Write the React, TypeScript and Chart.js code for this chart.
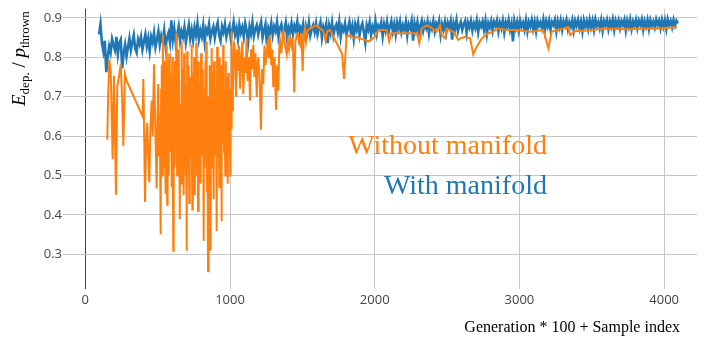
import React, { useEffect, useRef } from 'react';
import { Chart, registerables } from 'chart.js';

Chart.register(...registerables);

const ORANGE = '#ff7f0e';
const BLUE = '#1f77b4';

// "With manifold" runs: one sample every WITH_STEP index units, starting at WITH_START.
const WITH_START = 95;
const WITH_STEP = 10;
const withManifold: number[] = [
  0.858, 0.884, 0.836, 0.815, 0.842, 0.762, 0.80, 0.828, 0.812, 0.846,
  0.83, 0.818, 0.852, 0.808, 0.836, 0.845, 0.772, 0.81, 0.832, 0.802,
  0.826, 0.848, 0.818, 0.838, 0.856, 0.822, 0.812, 0.846, 0.834, 0.852,
  0.82, 0.84, 0.858, 0.828, 0.848, 0.816, 0.852, 0.838, 0.862, 0.826,
  0.846, 0.866, 0.832, 0.855, 0.84, 0.868, 0.828, 0.85, 0.862, 0.838,
  0.894, 0.845, 0.872, 0.836, 0.858, 0.878, 0.842, 0.866, 0.852, 0.876,
  0.838, 0.862, 0.882, 0.848, 0.87, 0.844, 0.876, 0.856, 0.886, 0.846,
  0.868, 0.852, 0.88, 0.84, 0.872, 0.862, 0.884, 0.848, 0.866, 0.878,
  0.85, 0.874, 0.888, 0.856, 0.842, 0.878, 0.864, 0.884, 0.852, 0.87,
  0.88, 0.848, 0.866, 0.889, 0.858, 0.874, 0.846, 0.882, 0.862, 0.876,
  0.852, 0.886, 0.868, 0.838, 0.878, 0.86, 0.888, 0.854, 0.872, 0.882,
  0.858, 0.876, 0.89, 0.85, 0.868, 0.884, 0.832, 0.874, 0.862, 0.886,
  0.856, 0.878, 0.866, 0.889, 0.852, 0.874, 0.884, 0.86, 0.87, 0.888,
  0.848, 0.876, 0.864, 0.886, 0.858, 0.88, 0.868, 0.89, 0.854, 0.876,
  0.866, 0.884, 0.842, 0.878, 0.862, 0.888, 0.856, 0.872, 0.882, 0.864,
  0.886, 0.858, 0.874, 0.889, 0.85, 0.878, 0.866, 0.884, 0.836, 0.88,
  0.862, 0.888, 0.856, 0.876, 0.884, 0.864, 0.89, 0.852, 0.878, 0.868,
  0.886, 0.858, 0.874, 0.89, 0.862, 0.88, 0.848, 0.884, 0.87, 0.888,
  0.856, 0.876, 0.886, 0.864, 0.838, 0.882, 0.87, 0.889, 0.858, 0.878,
  0.866, 0.891, 0.86, 0.88, 0.872, 0.888, 0.854, 0.884, 0.868, 0.89,
  0.862, 0.878, 0.892, 0.866, 0.884, 0.858, 0.888, 0.872, 0.891, 0.864,
  0.882, 0.87, 0.89, 0.856, 0.884, 0.874, 0.892, 0.842, 0.886, 0.868,
  0.889, 0.862, 0.88, 0.893, 0.868, 0.886, 0.874, 0.891, 0.86, 0.884,
  0.872, 0.892, 0.866, 0.886, 0.878, 0.893, 0.858, 0.884, 0.87, 0.89,
  0.864, 0.888, 0.876, 0.892, 0.845, 0.886, 0.872, 0.894, 0.866, 0.88,
  0.89, 0.87, 0.884, 0.893, 0.862, 0.888, 0.876, 0.892, 0.868, 0.886,
  0.874, 0.894, 0.864, 0.888, 0.878, 0.891, 0.87, 0.893, 0.86, 0.887,
  0.876, 0.892, 0.868, 0.89, 0.88, 0.894, 0.866, 0.888, 0.874, 0.893,
  0.864, 0.889, 0.878, 0.895, 0.87, 0.886, 0.84, 0.892, 0.874, 0.89,
  0.868, 0.893, 0.878, 0.888, 0.87, 0.894, 0.866, 0.89, 0.879, 0.895,
  0.872, 0.891, 0.866, 0.893, 0.88, 0.889, 0.874, 0.895, 0.868, 0.892,
  0.878, 0.894, 0.87, 0.89, 0.882, 0.895, 0.866, 0.892, 0.876, 0.894,
  0.87, 0.891, 0.88, 0.895, 0.872, 0.889, 0.878, 0.894, 0.868, 0.893,
  0.88, 0.895, 0.874, 0.891, 0.866, 0.894, 0.878, 0.892, 0.872, 0.895,
  0.876, 0.893, 0.87, 0.896, 0.88, 0.89, 0.874, 0.894, 0.868, 0.892,
  0.882, 0.895, 0.872, 0.891, 0.878, 0.896, 0.87, 0.893, 0.88, 0.894,
  0.874, 0.892, 0.882, 0.895, 0.868, 0.893, 0.878, 0.896, 0.872, 0.891,
  0.88, 0.895, 0.874, 0.893, 0.882, 0.896, 0.87, 0.892, 0.878, 0.895,
  0.872, 0.894, 0.88, 0.891, 0.876, 0.896, 0.882, 0.893, 0.874, 0.895,
  0.878, 0.894, 0.872, 0.896, 0.882, 0.892, 0.876, 0.895, 0.88, 0.893,
  0.886,
];

// "Without manifold" runs: [generation * 100 + sample index, E_dep / p_thrown]
const withoutEarly: [number, number][] = [
  [152, 0.591], [158, 0.7], [166, 0.794], [176, 0.765], [189, 0.541], [198, 0.753],
  [212, 0.451], [221, 0.725], [235, 0.757], [245, 0.782], [254, 0.7], [263, 0.575],
  [274, 0.757], [286, 0.74], [397, 0.649], [401, 0.745], [407, 0.6], [413, 0.433],
  [420, 0.58], [428, 0.633], [435, 0.55], [442, 0.483], [450, 0.62], [459, 0.69],
  [466, 0.6], [475, 0.782], [484, 0.62], [493, 0.467], [499, 0.64], [504, 0.732],
  [510, 0.55], [515, 0.66],
];

// Dense stretch of the "without manifold" runs, one sample every DENSE_STEP units.
const DENSE_START = 521;
const DENSE_STEP = 3;
const withoutDense: number[] = [
  0.351, 0.72, 0.55, 0.78, 0.5, 0.858, 0.6, 0.76, 0.52, 0.79,
  0.55, 0.7, 0.454, 0.832, 0.58, 0.426, 0.72, 0.62, 0.5, 0.77,
  0.81, 0.56, 0.74, 0.58, 0.76, 0.47, 0.69, 0.8, 0.52, 0.309,
  0.7, 0.6, 0.52, 0.79, 0.64, 0.6, 0.861, 0.55, 0.5, 0.74,
  0.62, 0.56, 0.82, 0.66, 0.389, 0.68, 0.53, 0.48, 0.84, 0.6,
  0.55, 0.77, 0.64, 0.45, 0.81, 0.57, 0.6, 0.73, 0.5, 0.66,
  0.309, 0.815, 0.58, 0.52, 0.78, 0.62, 0.43, 0.7, 0.56, 0.75,
  0.55, 0.832, 0.6, 0.414, 0.76, 0.64, 0.58, 0.8, 0.62, 0.45,
  0.72, 0.58, 0.837, 0.6, 0.5, 0.7, 0.41, 0.79, 0.62, 0.56,
  0.74, 0.6, 0.48, 0.81, 0.63, 0.6, 0.77, 0.55, 0.66, 0.334,
  0.72, 0.6, 0.52, 0.79, 0.65, 0.84, 0.58, 0.46, 0.7, 0.257,
  0.7, 0.6, 0.5, 0.78, 0.62, 0.309, 0.74, 0.6, 0.823, 0.52,
  0.76, 0.62, 0.44, 0.79, 0.64, 0.58, 0.72, 0.55, 0.66, 0.359,
  0.827, 0.6, 0.55, 0.74, 0.62, 0.47, 0.8, 0.64, 0.6, 0.78,
  0.384, 0.68, 0.77, 0.58, 0.832, 0.62, 0.56, 0.72, 0.6, 0.5,
  0.79, 0.66, 0.62, 0.75, 0.58, 0.479, 0.76, 0.64, 0.6, 0.72,
  0.5, 0.7, 0.62, 0.866, 0.7, 0.666,
];

const withoutLate: [number, number][] = [
  [1020, 0.72], [1028, 0.84], [1035, 0.815], [1042, 0.7],
  [1050, 0.82], [1055, 0.765], [1062, 0.83], [1070, 0.72], [1078, 0.807], [1085, 0.84],
  [1092, 0.707], [1100, 0.8], [1108, 0.76], [1115, 0.848], [1122, 0.74], [1130, 0.8],
  [1138, 0.69], [1146, 0.82], [1153, 0.77], [1161, 0.832], [1168, 0.75], [1176, 0.81],
  [1185, 0.699], [1190, 0.78], [1196, 0.799], [1205, 0.74], [1214, 0.616], [1222, 0.77],
  [1230, 0.732], [1238, 0.83], [1245, 0.78], [1253, 0.807], [1262, 0.845], [1270, 0.8],
  [1276, 0.856], [1285, 0.78], [1292, 0.82], [1299, 0.724], [1308, 0.8], [1318, 0.666],
  [1326, 0.78], [1334, 0.715], [1340, 0.82], [1346, 0.84], [1355, 0.81], [1362, 0.85],
  [1369, 0.865], [1380, 0.83], [1392, 0.807], [1400, 0.84], [1408, 0.82], [1415, 0.849],
  [1425, 0.83], [1433, 0.85], [1444, 0.711], [1452, 0.84], [1461, 0.856], [1470, 0.86],
  [1477, 0.84], [1484, 0.832], [1493, 0.86], [1502, 0.765], [1510, 0.86], [1518, 0.873],
  [1525, 0.84], [1535, 0.868], [1553, 0.873], [1570, 0.875], [1587, 0.881], [1610, 0.877],
  [1625, 0.872], [1645, 0.866], [1660, 0.842], [1672, 0.866], [1691, 0.869], [1775, 0.808],
  [1788, 0.745], [1805, 0.852], [1830, 0.856], [1860, 0.848], [1880, 0.852], [1900, 0.848],
  [1956, 0.84], [2002, 0.852], [2025, 0.869], [2083, 0.869], [2100, 0.84], [2115, 0.861],
  [2200, 0.861], [2295, 0.861], [2308, 0.836], [2325, 0.873], [2359, 0.881], [2382, 0.877],
  [2428, 0.865], [2451, 0.881], [2463, 0.856], [2486, 0.848], [2498, 0.873], [2520, 0.869],
  [2543, 0.865], [2578, 0.844], [2590, 0.848], [2624, 0.852], [2659, 0.848], [2681, 0.807],
  [2705, 0.827], [2740, 0.848], [2785, 0.861], [2820, 0.865], [2854, 0.873], [2912, 0.869],
  [2981, 0.869], [3073, 0.865], [3165, 0.869], [3200, 0.823], [3223, 0.865], [3303, 0.873],
  [3338, 0.877], [3350, 0.856], [3380, 0.866], [3511, 0.869], [3580, 0.873], [3741, 0.871],
  [3880, 0.873], [3972, 0.873], [4088, 0.877],
];

const xTickValues = [0, 1000, 2000, 3000, 4000];
const yTickValues = [0.3, 0.4, 0.5, 0.6, 0.7, 0.8, 0.9];

const TICK_FONT = { family: '"Open Sans", sans-serif', size: 13 };
const TICK_COLOR = '#444';
const GRID_COLOR = '#c6c6c6';
const SERIF = '"Liberation Serif", "Times New Roman", serif';

// Series labels, placed in data coordinates (right-aligned, alphabetic baseline).
const LABEL_X = 3190;
const WITHOUT_LABEL_Y = 0.5537;
const WITH_LABEL_Y = 0.4542;

const textPlugin = {
  id: 'chartText',
  afterDatasetsDraw(chart: any) {
    const { ctx, scales } = chart;
    const xs = scales.x;
    const ys = scales.y;
    ctx.save();
    ctx.textAlign = 'right';
    ctx.textBaseline = 'alphabetic';
    ctx.font = `28px ${SERIF}`;
    ctx.fillStyle = ORANGE;
    ctx.fillText('Without manifold', xs.getPixelForValue(LABEL_X), ys.getPixelForValue(WITHOUT_LABEL_Y));
    ctx.fillStyle = BLUE;
    ctx.fillText('With manifold', xs.getPixelForValue(LABEL_X), ys.getPixelForValue(WITH_LABEL_Y));

    // x-axis title
    ctx.font = `16px ${SERIF}`;
    ctx.fillStyle = '#000';
    ctx.fillText('Generation * 100 + Sample index', 680, 332);

    // y-axis title: E_dep. / p_thrown, rotated
    ctx.translate(25, 106);
    ctx.rotate(-Math.PI / 2);
    ctx.textAlign = 'left';
    const parts: [string, string, number][] = [
      ['E', `italic 19px ${SERIF}`, 0],
      ['dep.', `13px ${SERIF}`, 4],
      [' / ', `19px ${SERIF}`, 0],
      ['p', `italic 19px ${SERIF}`, 0],
      ['thrown', `13px ${SERIF}`, 4],
    ];
    let cx = 0;
    for (const [t, f, dy] of parts) {
      ctx.font = f;
      ctx.fillText(t, cx, dy);
      cx += ctx.measureText(t).width;
    }
    ctx.restore();
  },
};

export default function App() {
  const canvasRef = useRef<HTMLCanvasElement | null>(null);

  useEffect(() => {
    const canvas = canvasRef.current;
    if (!canvas) return;
    const withoutPoints = [
      ...withoutEarly,
      ...withoutDense.map((y, i): [number, number] => [DENSE_START + i * DENSE_STEP, y]),
      ...withoutLate,
    ].map(([x, y]) => ({ x, y }));
    const withPoints = withManifold.map((y, i) => ({ x: WITH_START + i * WITH_STEP, y }));

    const chart = new Chart(canvas, {
      type: 'line',
      data: {
        datasets: [
          {
            label: 'Without manifold',
            data: withoutPoints,
            borderColor: ORANGE,
            backgroundColor: ORANGE,
            borderWidth: 2,
            pointRadius: 0,
            tension: 0,
            order: 0,
          },
          {
            label: 'With manifold',
            data: withPoints,
            borderColor: BLUE,
            backgroundColor: BLUE,
            borderWidth: 2.6,
            pointRadius: 0,
            tension: 0,
            order: 1,
          },
        ],
      },
      options: {
        animation: false,
        responsive: false,
        maintainAspectRatio: false,
        layout: { padding: { top: 3, right: 8, left: 0, bottom: 0 } },
        plugins: { legend: { display: false }, tooltip: { enabled: false } },
        scales: {
          x: {
            type: 'linear',
            min: -154,
            max: 4227,
            border: { display: false },
            grid: {
              drawTicks: false,
              lineWidth: 1,
              color: (c: any) => (c.tick && c.tick.value === 0 ? '#444' : GRID_COLOR),
            },
            ticks: {
              padding: 3,
              font: TICK_FONT,
              color: TICK_COLOR,
              maxRotation: 0,
              includeBounds: false,
              callback: (v: any) => String(v),
            },
            afterBuildTicks: (s: any) => {
              s.ticks = xTickValues.map((value) => ({ value }));
            },
            afterFit: (s: any) => {
              s.height = 51;
            },
          },
          y: {
            type: 'linear',
            min: 0.212,
            max: 0.923,
            border: { display: false },
            grid: { drawTicks: false, lineWidth: 1, color: GRID_COLOR },
            ticks: {
              padding: 1,
              font: TICK_FONT,
              color: TICK_COLOR,
              includeBounds: false,
              callback: (v: any) => Number(v).toFixed(1),
            },
            afterBuildTicks: (s: any) => {
              s.ticks = yTickValues.map((value) => ({ value }));
            },
            afterFit: (s: any) => {
              s.width = 63;
            },
          },
        },
      },
      plugins: [textPlugin],
    });
    return () => chart.destroy();
  }, []);

  return (
    <div style={{ position: 'fixed', left: 0, top: 0, width: 705, height: 340, background: '#fff' }}>
      <canvas ref={canvasRef} width={705} height={340} style={{ width: 705, height: 340, display: 'block' }} />
    </div>
  );
}
